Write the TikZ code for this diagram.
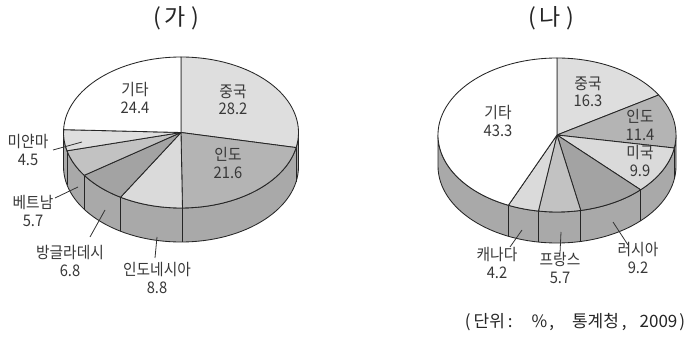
\documentclass[tikz,border=0pt]{standalone}
\usepackage{fontspec}
\setmainfont{Noto Sans CJK KR}
\newfontfamily\labfont{Noto Sans CJK KR}[FakeStretch=0.92]
\usetikzlibrary{calc}
\definecolor{lightA}{HTML}{DEDEDE}
\definecolor{lightB}{HTML}{DADADA}
\definecolor{midA}{HTML}{B4B4B4}
\definecolor{midB}{HTML}{C2C2C2}
\definecolor{darkA}{HTML}{A3A3A3}
\definecolor{sidegray}{HTML}{A9A9A9}
\tikzset{
  edge/.style={draw=black!85, line width=0.85pt, line join=round},
  lbl/.style={font=\labfont\fontsize{16}{17.5}\selectfont, text=black!78, align=center, inner sep=0pt},
  leader/.style={draw=black!80, line width=0.8pt},
  ttl/.style={font=\fontsize{23}{26}\selectfont, inner sep=0pt, text=black!85},
  foot/.style={font=\fontsize{17}{19}\selectfont, inner sep=0pt, text=black!85},
}
\begin{document}
\begin{tikzpicture}[x=1pt,y=1pt]
\useasboundingbox[fill=white] (0,0) rectangle (698,340);

% ---------- (가) ----------
\begin{scope}[shift={(181,207.5)}, x radius=117.5pt, y radius=75.5pt]
  \def\rxy{117.5pt and 75.5pt}\def\dd{34}
  \filldraw[edge, fill=sidegray] (180:\rxy) arc[start angle=180,end angle=360] -- ++(0,-\dd) arc[start angle=360,end angle=180] -- cycle;
  \foreach \t in {-11.52,-89.28,-120.96,-145.44,-165.96}
    \draw[edge] (\t:\rxy) -- ++(0,-\dd);
  \foreach \s/\e/\col in {90/-11.52/lightA, -11.52/-89.28/midA, -89.28/-120.96/lightB, -120.96/-145.44/darkA, -145.44/-165.96/midB, -165.96/-182.16/lightA, -182.16/-270/white}
    \filldraw[edge, fill=\col] (0,0) -- (\s:\rxy) arc[start angle=\s,end angle=\e] -- cycle;
\end{scope}

\node[ttl] (titleA) at (176,322) {(\hspace{4pt}가\hspace{5pt})};
\node[lbl] (a-etc) at (135,242) {기타\\24.4};
\node[lbl] (a-china) at (233,240) {중국\\28.2};
\node[lbl] (a-india) at (228,177) {인도\\21.6};
\node[lbl] (a-myan) at (28,190) {미얀마\\4.5};
\node[lbl] (a-viet) at (33,129) {베트남\\5.7};
\node[lbl] (a-bang) at (70,79) {방글라데시\\6.8};
\node[lbl] (a-indo) at (157,62) {인도네시아\\8.8};

\coordinate (a-myan-s) at (53,190); \coordinate (a-myan-e) at (82,198);
\coordinate (a-viet-s) at (55,142); \coordinate (a-viet-e) at (78,153);
\coordinate (a-bang-s) at (90,103); \coordinate (a-bang-e) at (105,130);
\coordinate (a-indo-s) at (155,82); \coordinate (a-indo-e) at (157,103);
\draw[leader] (a-myan-s) -- (a-myan-e);
\draw[leader] (a-viet-s) -- (a-viet-e);
\draw[leader] (a-bang-s) -- (a-bang-e);
\draw[leader] (a-indo-s) -- (a-indo-e);

% ---------- (나) ----------
\begin{scope}[shift={(557,205)}, x radius=119pt, y radius=77pt]
  \def\rxy{119pt and 77pt}\def\dd{31}
  \filldraw[edge, fill=sidegray] (180:\rxy) arc[start angle=180,end angle=360] -- ++(0,-\dd) arc[start angle=360,end angle=180] -- cycle;
  \foreach \t in {-9.72,-45.36,-78.48,-99,-114.12}
    \draw[edge] (\t:\rxy) -- ++(0,-\dd);
  \foreach \s/\e/\col in {90/31.32/lightA, 31.32/-9.72/midA, -9.72/-45.36/lightB, -45.36/-78.48/darkA, -78.48/-99/midB, -99/-114.12/lightB, -114.12/-270/white}
    \filldraw[edge, fill=\col] (0,0) -- (\s:\rxy) arc[start angle=\s,end angle=\e] -- cycle;
\end{scope}

\node[ttl] (titleB) at (551,322) {(\hspace{4pt}나\hspace{5pt})};
\node[lbl] (b-china) at (588,248) {중국\\16.3};
\node[lbl] (b-india) at (640,215) {인도\\11.4};
\node[lbl] (b-usa) at (640,179) {미국\\9.9};
\node[lbl] (b-etc) at (498,219) {기타\\43.3};
\node[lbl] (b-can) at (497,77) {캐나다\\4.2};
\node[lbl] (b-fra) at (560,72) {프랑스\\5.7};
\node[lbl] (b-rus) at (638,82) {러시아\\9.2};

\coordinate (b-can-s) at (510,93); \coordinate (b-can-e) at (522,110);
\coordinate (b-fra-s) at (560,87); \coordinate (b-fra-e) at (561,108);
\coordinate (b-rus-s) at (628,95); \coordinate (b-rus-e) at (613,118);
\draw[leader] (b-can-s) -- (b-can-e);
\draw[leader] (b-fra-s) -- (b-fra-e);
\draw[leader] (b-rus-s) -- (b-rus-e);

\node[foot] (source) at (575,18) {(\hspace{3pt}단위\hspace{3pt}:\hspace{19pt}\%\hspace{2pt},\hspace{18pt}통계청\hspace{3pt},\hspace{13pt}2009\hspace{2pt})};
\end{tikzpicture}
\end{document}
